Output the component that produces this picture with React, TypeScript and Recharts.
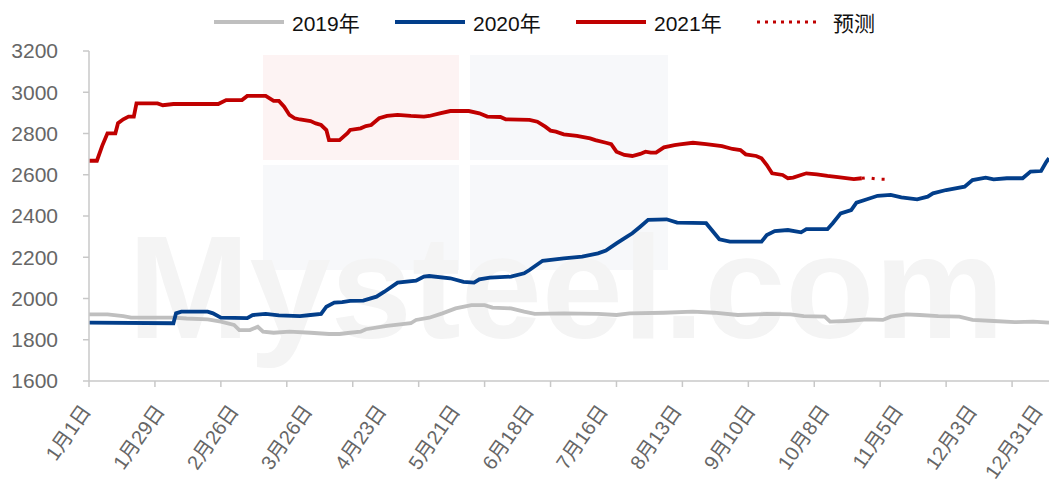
import React from 'react';
import { LineChart, Line, XAxis, YAxis, Legend } from 'recharts';

const FONT = '"Liberation Sans", Arial, "Noto Sans CJK SC", sans-serif';

// x axis: day of year (0 = 1月1日)
const tickLabelDays = [0, 28, 56, 84, 112, 140, 168, 196, 224, 252, 280, 308, 336, 364];
const tickLabels = ['1月1日', '1月29日', '2月26日', '3月26日', '4月23日', '5月21日', '6月18日', '7月16日', '8月13日', '9月10日', '10月8日', '11月5日', '12月3日', '12月31日'];
const tickMarkDays = [0, 25, 50, 75, 100, 125, 150, 175, 200, 225, 250, 275, 300, 325, 350];
const yTicks = [1600, 1800, 2000, 2200, 2400, 2600, 2800, 3000, 3200];

const days2019 = [0, 7, 13, 16, 32, 37, 45, 50, 55, 57, 61, 64, 66, 70, 76, 84, 91, 95, 99, 103, 105, 113, 122, 124, 129, 134, 139, 145, 150, 153, 160, 165, 169, 180, 193, 200, 205, 218, 229, 237, 246, 257, 266, 271, 279, 281, 287, 295, 301, 304, 310, 315, 322, 330, 335, 343, 351, 358, 364];
const values2019 = [1923, 1923, 1915, 1907, 1907, 1903, 1899, 1888, 1872, 1847, 1847, 1863, 1839, 1834, 1839, 1834, 1828, 1828, 1834, 1839, 1851, 1867, 1880, 1896, 1907, 1928, 1952, 1968, 1968, 1956, 1952, 1936, 1925, 1928, 1925, 1920, 1928, 1931, 1936, 1931, 1920, 1925, 1923, 1915, 1912, 1888, 1891, 1899, 1896, 1912, 1923, 1920, 1915, 1912, 1896, 1891, 1885, 1888, 1883];

const days2020 = [0, 32, 33, 35, 45, 47, 50, 60, 62, 67, 72, 80, 84, 88, 90, 93, 96, 99, 104, 109, 112, 117, 124, 127, 129, 137, 142, 146, 148, 152, 160, 165, 167, 172, 180, 187, 193, 196, 200, 204, 206, 209, 212, 219, 223, 234, 239, 243, 255, 257, 260, 265, 270, 272, 280, 282, 285, 289, 291, 295, 299, 304, 308, 314, 318, 320, 325, 332, 335, 340, 343, 348, 354, 357, 361, 363, 364];
const values2020 = [1883, 1880, 1928, 1936, 1936, 1928, 1907, 1905, 1920, 1925, 1918, 1915, 1920, 1925, 1960, 1980, 1982, 1988, 1990, 2009, 2033, 2077, 2086, 2106, 2109, 2098, 2081, 2077, 2093, 2101, 2106, 2122, 2138, 2183, 2195, 2203, 2219, 2232, 2267, 2300, 2316, 2348, 2381, 2384, 2368, 2365, 2287, 2276, 2276, 2308, 2327, 2332, 2321, 2336, 2336, 2365, 2413, 2429, 2465, 2481, 2498, 2502, 2490, 2481, 2494, 2510, 2526, 2542, 2574, 2586, 2578, 2583, 2583, 2615, 2618, 2663, 2680];

const days2021 = [0, 3, 5, 7, 10, 11, 13, 15, 17, 18, 26, 28, 32, 49, 52, 58, 60, 67, 70, 72, 74, 76, 78, 80, 84, 86, 88, 90, 91, 95, 98, 99, 103, 105, 107, 110, 113, 117, 122, 127, 129, 133, 137, 144, 148, 151, 156, 158, 167, 170, 173, 175, 177, 180, 185, 190, 192, 196, 198, 200, 203, 206, 209, 211, 213, 215, 218, 222, 224, 229, 234, 240, 244, 247, 249, 253, 255, 257, 259, 263, 265, 267, 270, 272, 276, 280, 284, 290, 293];
const values2021 = [2668, 2668, 2740, 2801, 2801, 2850, 2869, 2882, 2882, 2946, 2946, 2937, 2943, 2943, 2962, 2962, 2982, 2982, 2958, 2958, 2930, 2890, 2874, 2868, 2860, 2849, 2841, 2817, 2768, 2768, 2801, 2817, 2825, 2836, 2841, 2874, 2885, 2890, 2885, 2882, 2885, 2898, 2909, 2909, 2898, 2882, 2880, 2869, 2866, 2857, 2833, 2814, 2809, 2796, 2788, 2776, 2768, 2755, 2748, 2712, 2696, 2691, 2701, 2712, 2707, 2707, 2733, 2744, 2747, 2755, 2749, 2739, 2725, 2720, 2699, 2691, 2680, 2647, 2607, 2599, 2583, 2586, 2599, 2607, 2602, 2594, 2588, 2579, 2583];

const daysForecast = [293, 295, 299, 302];
const valuesForecast = [2583, 2586, 2579, 2578];

const toRows = (days: number[], values: number[]) => days.map((d, i) => ({ day: d, value: values[i] }));
const data2019 = toRows(days2019, values2019);
const data2020 = toRows(days2020, values2020);
const data2021 = toRows(days2021, values2021);
const dataForecast = toRows(daysForecast, valuesForecast);

const allTicks = Array.from(new Set([...tickLabelDays, ...tickMarkDays])).sort((a, b) => a - b);

const COLOR_2019 = '#bfbfbf';
const COLOR_2020 = '#023e8a';
const COLOR_2021 = '#c00000';
const AXIS = '#c8c8c8';

const legendItems = [
  { label: '2019年', color: COLOR_2019, dash: undefined as string | undefined, w: 70, gap: 8, width: 181 },
  { label: '2020年', color: COLOR_2020, dash: undefined, w: 70, gap: 8, width: 181 },
  { label: '2021年', color: COLOR_2021, dash: undefined, w: 70, gap: 8, width: 181 },
  { label: '预测', color: COLOR_2021, dash: '3 5', w: 64, gap: 12, width: 130 },
];

const LegendContent = () => (
  <div style={{ display: 'flex', alignItems: 'center', height: 44, paddingLeft: 214, fontFamily: FONT, fontSize: 21, color: '#111' }}>
    {legendItems.map((it) => (
      <div key={it.label} style={{ display: 'flex', alignItems: 'center', width: it.width, flex: 'none' }}>
        <svg width={it.w} height={6} style={{ display: 'block' }}>
          <line x1={0} y1={3} x2={it.w} y2={3} stroke={it.color} strokeWidth={it.dash ? 3 : 4} strokeDasharray={it.dash} />
        </svg>
        <span style={{ marginLeft: it.gap, whiteSpace: 'nowrap' }}>{it.label}</span>
      </div>
    ))}
  </div>
);

const XTick = (props: any) => {
  const { x, y, payload } = props;
  const d = payload.value;
  const li = tickLabelDays.indexOf(d);
  const lx = Math.min(x - 3, 1038);
  const ly = y + 26;
  return (
    <g>
      {tickMarkDays.includes(d) && <line x1={x} y1={y} x2={x} y2={y + 6} stroke={AXIS} strokeWidth={1.5} />}
      {li >= 0 && (
        <text x={lx} y={ly} transform={`rotate(-55, ${lx}, ${ly})`} textAnchor="end" dominantBaseline="central" fill="#666" fontSize={20} fontFamily={FONT}>
          {tickLabels[li]}
        </text>
      )}
    </g>
  );
};

const Watermark = () => {
  const block = (left: number, top: number, w: number, bg: string) => (
    <div style={{ position: 'absolute', left, top, width: w, height: 105, background: bg }} />
  );
  return (
    <div style={{ position: 'absolute', left: 0, top: 0, width: 1049, height: 484, overflow: 'hidden', zIndex: 0 }}>
      {block(263, 55, 196, '#fdf3f3')}
      {block(470, 55, 198, '#f7f8fa')}
      {block(263, 165, 196, '#f7f8fa')}
      {block(470, 165, 198, '#f7f8fa')}
      <div style={{ position: 'absolute', left: 128, top: 228, fontFamily: '"Liberation Sans", Arial, sans-serif', fontWeight: 700, fontSize: 146, color: '#f4f4f4', lineHeight: '120px', whiteSpace: 'nowrap' }}>Mysteel.com</div>
    </div>
  );
};

export default function App() {
  return (
    <div style={{ position: 'absolute', left: 0, top: 0, width: 1049, height: 484, background: '#fff', overflow: 'hidden' }}>
      <Watermark />
      <div style={{ position: 'absolute', left: 0, top: 0, zIndex: 1 }}>
        <LineChart width={1049} height={484} margin={{ top: 51, right: 0, bottom: 0, left: 0 }}>
          <XAxis
            dataKey="day"
            type="number"
            domain={[0, 364]}
            ticks={allTicks}
            interval={0}
            tick={<XTick />}
            tickLine={false}
            tickSize={0}
            tickMargin={0}
            height={103}
            axisLine={{ stroke: AXIS, strokeWidth: 1.5 }}
            allowDataOverflow
          />
          <YAxis
            type="number"
            domain={[1600, 3200]}
            ticks={yTicks}
            interval={0}
            width={89}
            tickSize={6}
            tickMargin={25}
            tickLine={{ stroke: AXIS, strokeWidth: 1.5 }}
            axisLine={{ stroke: AXIS, strokeWidth: 1.5 }}
            tick={{ fill: '#666', fontSize: 21, fontFamily: FONT }}
          />
          <Legend layout="horizontal" verticalAlign="middle" align="center" wrapperStyle={{ top: 0, left: 0, width: 1049, height: 44 }} content={() => <LegendContent />} />
          <Line data={data2019} dataKey="value" name="2019年" stroke={COLOR_2019} strokeWidth={3.8} dot={false} activeDot={false} isAnimationActive={false} type="linear" />
          <Line data={data2020} dataKey="value" name="2020年" stroke={COLOR_2020} strokeWidth={3.8} dot={false} activeDot={false} isAnimationActive={false} type="linear" />
          <Line data={data2021} dataKey="value" name="2021年" stroke={COLOR_2021} strokeWidth={3.8} dot={false} activeDot={false} isAnimationActive={false} type="linear" />
          <Line data={dataForecast} dataKey="value" name="预测" stroke={COLOR_2021} strokeWidth={3} strokeDasharray="3 7" dot={false} activeDot={false} isAnimationActive={false} type="linear" />
        </LineChart>
      </div>
    </div>
  );
}
